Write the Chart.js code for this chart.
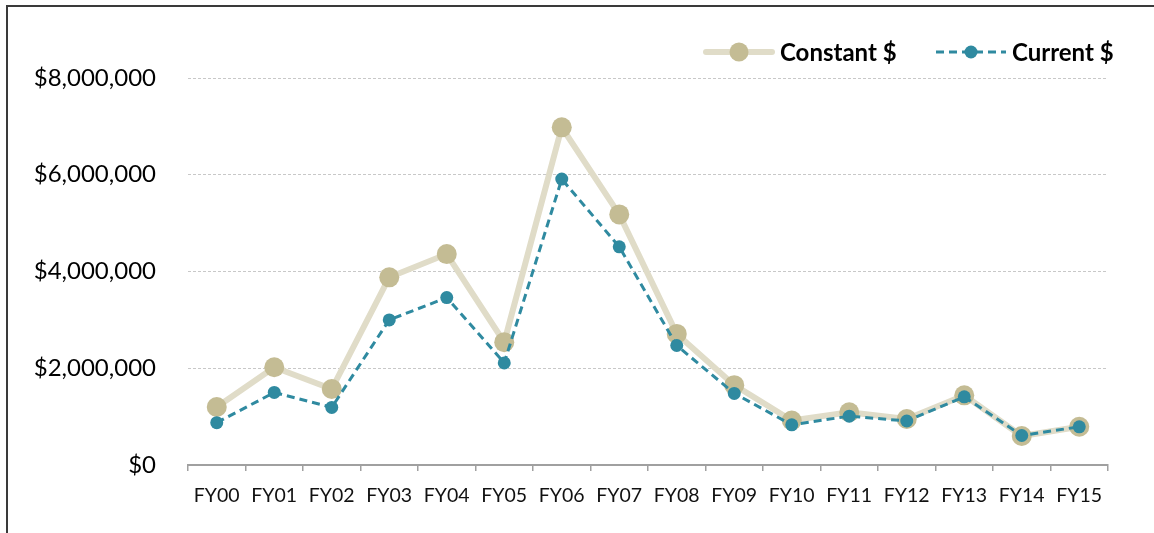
<!DOCTYPE html>
<html>
<head>
<meta charset="utf-8">
<script src="https://cdn.jsdelivr.net/npm/chart.js@4"></script>
<style>
  html, body { margin: 0; padding: 0; background: #fff; }
  #wrap { position: relative; width: 1154px; height: 533px; }
  #frame { position: absolute; left: 6px; top: 5px; right: -4px; bottom: -4px;
           border-top: 2px solid #3a3a3a; border-left: 2px solid #3a3a3a; pointer-events: none; }
</style>
</head>
<body>
<div id="wrap">
  <canvas id="c"></canvas>
  <div id="frame"></div>
</div>
<script>
const categories = ['FY00','FY01','FY02','FY03','FY04','FY05','FY06','FY07','FY08','FY09','FY10','FY11','FY12','FY13','FY14','FY15'];
const constantDollars = [1200000, 2020000, 1570000, 3880000, 4360000, 2540000, 6980000, 5180000, 2710000, 1650000, 920000, 1090000, 950000, 1440000, 600000, 790000];
const currentDollars  = [ 875000, 1500000, 1190000, 3000000, 3460000, 2110000, 5910000, 4510000, 2470000, 1480000, 830000, 1010000, 910000, 1410000, 610000, 790000];
const yTicks = [0, 2000000, 4000000, 6000000, 8000000];
const seriesNames = ['Constant $', 'Current $'];

const CONST_LINE = '#e0dcc8';
const CONST_MARK = '#c4bc94';
const CUR_COLOR = '#2f8aa0';

const legendPlugin = {
  id: 'customLegend',
  afterDraw(chart) {
    const ctx = chart.ctx;
    const y = 52;
    ctx.save();
    // Constant $
    ctx.strokeStyle = CONST_LINE; ctx.lineWidth = 6; ctx.lineCap = 'round'; ctx.setLineDash([]);
    ctx.beginPath(); ctx.moveTo(706, y); ctx.lineTo(772, y); ctx.stroke();
    ctx.fillStyle = CONST_MARK;
    ctx.beginPath(); ctx.arc(739, y, 9.5, 0, Math.PI * 2); ctx.fill();
    ctx.fillStyle = '#000'; ctx.font = 'bold 24px Lato'; ctx.textBaseline = 'middle'; ctx.textAlign = 'left';
    ctx.fillText(seriesNames[0], 780, y + 1);
    // Current $
    ctx.strokeStyle = CUR_COLOR; ctx.lineWidth = 3; ctx.lineCap = 'butt'; ctx.setLineDash([8, 5]);
    ctx.beginPath(); ctx.moveTo(936, y); ctx.lineTo(1006, y); ctx.stroke();
    ctx.setLineDash([]);
    ctx.fillStyle = CUR_COLOR;
    ctx.beginPath(); ctx.arc(971, y, 6.5, 0, Math.PI * 2); ctx.fill();
    ctx.fillStyle = '#000';
    ctx.fillText(seriesNames[1], 1012, y + 1);
    ctx.restore();
  }
};

new Chart(document.getElementById('c'), {
  type: 'line',
  data: {
    labels: categories,
    datasets: [
      {
        label: seriesNames[0],
        data: constantDollars,
        borderColor: CONST_LINE,
        borderWidth: 6,
        pointBackgroundColor: CONST_MARK,
        pointBorderColor: CONST_MARK,
        pointRadius: 10,
        pointBorderWidth: 0,
        tension: 0,
        order: 2
      },
      {
        label: seriesNames[1],
        data: currentDollars,
        borderColor: CUR_COLOR,
        borderWidth: 3,
        borderDash: [8, 5],
        pointBackgroundColor: CUR_COLOR,
        pointBorderColor: CUR_COLOR,
        pointRadius: 6.5,
        pointBorderWidth: 0,
        tension: 0,
        order: 1
      }
    ]
  },
  options: {
    responsive: true,
    maintainAspectRatio: false,
    animation: false,
    layout: { padding: { top: 78, right: 46, bottom: 0, left: 0 } },
    plugins: { legend: { display: false }, tooltip: { enabled: false } },
    scales: {
      x: {
        offset: true,
        afterFit(scale) { scale.height = 68; },
        grid: { offset: true, drawOnChartArea: false, drawTicks: true, tickLength: 6, color: '#a0a0a0', lineWidth: 1.5 },
        border: { display: true, color: '#a0a0a0', width: 2 },
        ticks: { color: '#111', font: { family: 'Lato', size: 19.5 }, padding: 13, maxRotation: 0, autoSkip: false }
      },
      y: {
        min: 0,
        max: 8000000,
        afterFit(scale) { scale.width = 188; },
        afterBuildTicks(scale) { scale.ticks = yTicks.map(v => ({ value: v })); },
        grid: { color: '#c8c8c8', lineWidth: 1, drawTicks: false },
        border: { display: false, dash: [3, 2] },
        ticks: {
          color: '#000',
          font: { family: 'Lato', size: 24 },
          padding: 32,
          callback: v => '$' + Number(v).toLocaleString('en-US')
        }
      }
    }
  },
  plugins: [legendPlugin]
});
</script>
</body>
</html>
